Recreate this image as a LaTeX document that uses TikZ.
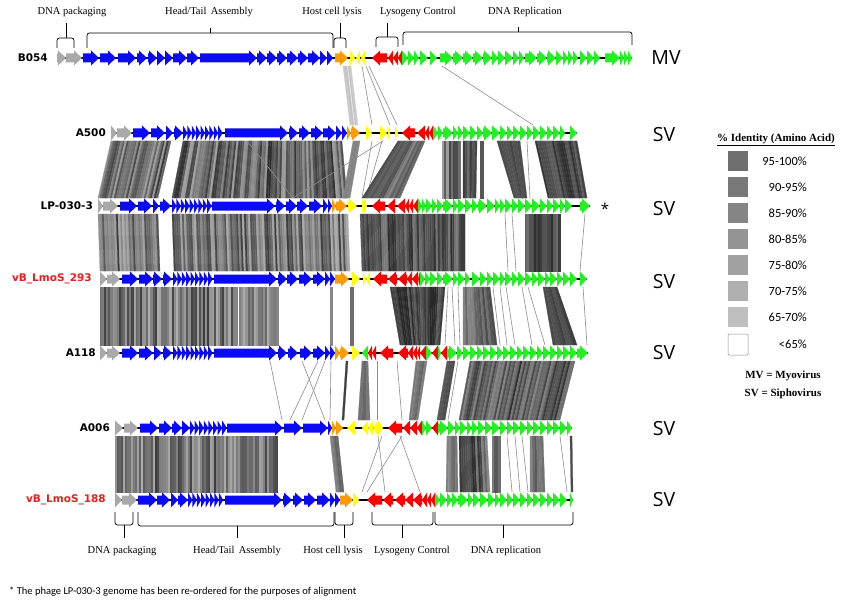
\documentclass[tikz,border=0pt]{standalone}
\usepackage{fontspec}
\setmainfont{Liberation Serif}
\newfontfamily\labfont{DejaVu Sans}
\newfontfamily\svfont{Open Sans}
\newfontfamily\calfont{Carlito}
\definecolor{gblue}{HTML}{0A0AF5}
\definecolor{ggray}{HTML}{A9A9A9}
\definecolor{gorange}{HTML}{FF9A00}
\definecolor{gyellow}{HTML}{FFFF00}
\definecolor{gred}{HTML}{FF0000}
\definecolor{ggreen}{HTML}{22F022}
\definecolor{lred}{HTML}{EE1C1C}
\newcommand\gf[4]{\pgfmathsetmacro\ghx{max(#1,#2-8)}\fill[#4] (#1,#3-4.5) -- (\ghx,#3-4.5) -- (\ghx,#3-7.5) -- (#2,#3) -- (\ghx,#3+7.5) -- (\ghx,#3+4.5) -- (#1,#3+4.5) -- cycle;}
\newcommand\gr[4]{\pgfmathsetmacro\ghx{min(#2,#1+8)}\fill[#4] (#2,#3-4.5) -- (\ghx,#3-4.5) -- (\ghx,#3-7.5) -- (#1,#3) -- (\ghx,#3+7.5) -- (\ghx,#3+4.5) -- (#2,#3+4.5) -- cycle;}
\newcommand\band[9]{%
\foreach \i in {1,...,#7}{%
\pgfmathsetmacro\bta{(\i-1)/#7}%
\pgfmathsetmacro\btb{\i/#7}%
\pgfmathrandominteger{\bsh}{#8+12}{#9+6}%
\filldraw[black!\bsh, line width=0.25pt] ({#1+\bta*(#2-#1)},#5) -- ({#1+\btb*(#2-#1)},#5) -- ({#3+\btb*(#4-#3)},#6) -- ({#3+\bta*(#4-#3)},#6) -- cycle;}}
\newcommand\lnk[4]{\draw[lnkline] (#1,#3) -- (#2,#4);}
\newcommand\brtop[6]{\draw[brk] (#1,#4) -- (#1,#5) -- (#2,#5) -- (#2,#4); \draw[brk] (#3,#5) -- (#3,#6);}
\tikzset{
 trk/.style={line width=1.3pt, black},
 lnkline/.style={black!45, line width=0.6pt},
 brk/.style={black, line width=0.7pt, rounded corners=2.5pt},
 gname/.style={font=\labfont\bfseries\fontsize{10.5}{12}\selectfont, anchor=east, inner sep=0pt},
 vtype/.style={font=\svfont\fontsize{19.5}{22}\selectfont, inner sep=0pt},
 brlab/.style={font=\fontsize{10.5}{12}\selectfont, inner sep=0pt},
 legbox/.style={draw=black!45, line width=0.5pt},
 leglab/.style={font=\calfont\fontsize{12.5}{14}\selectfont, anchor=east, inner sep=0pt}
}
\begin{document}
\begin{tikzpicture}[x=1pt,y=-1pt]
\useasboundingbox (0,0) rectangle (856,604);
\fill[white] (0,0) rectangle (856,604);
\pgfmathsetseed{11}
% ---------- pair 1: B054 - A500
\band{343}{347}{350}{354}{66}{125}{2}{8}{18}
\band{348}{351}{355}{358}{66}{125}{2}{8}{18}
\lnk{362}{372}{66}{125}
\lnk{366}{390}{66}{125}
\lnk{369}{397}{66}{125}
\lnk{442}{533}{66}{125}
% ---------- pair 2: A500 - LP-030-3
\band{111}{171}{98}{158}{141}{198}{30}{25}{75}
\band{183}{342}{172}{347}{141}{198}{80}{25}{75}
\band{353}{360}{343}{350}{141}{198}{3}{25}{45}
\lnk{372}{362}{141}{198}
\lnk{382}{366}{141}{198}
\lnk{383}{293}{141}{198}
\lnk{247}{293}{141}{198}
\band{398}{425}{362}{400}{141}{198}{14}{35}{65}
\band{442}{460}{442}{460}{141}{198}{8}{25}{70}
\band{463}{477}{463}{476}{141}{198}{6}{40}{70}
\band{480}{483}{480}{483}{141}{198}{1}{50}{60}
\band{497}{515}{514}{524}{141}{198}{6}{55}{70}
\band{514}{520}{522}{527}{141}{198}{2}{55}{70}
\lnk{527}{530}{141}{198}
\band{535}{577}{548}{587}{141}{198}{20}{50}{75}
% ---------- pair 3: LP-030-3 - vB_LmoS_293
\band{98}{158}{100}{160}{214}{271}{30}{20}{70}
\band{172}{348}{174}{350}{214}{271}{88}{20}{70}
\band{360}{465}{362}{465}{214}{271}{50}{40}{75}
\lnk{505}{508}{214}{271}
\lnk{512}{516}{214}{271}
\band{525}{560}{525}{560}{214}{271}{16}{45}{75}
\lnk{585}{580}{214}{271}
% ---------- pair 4: vB_LmoS_293 - A118
\band{100}{237}{100}{237}{287}{345}{65}{20}{70}
\band{239}{278}{239}{278}{287}{345}{18}{15}{55}
\band{330}{332}{330}{332}{287}{345}{1}{35}{40}
\band{350}{353}{350}{353}{287}{345}{1}{45}{55}
\band{390}{445}{400}{440}{287}{345}{26}{50}{78}
\lnk{448}{445}{287}{345}
\lnk{452}{455}{287}{345}
\lnk{458}{460}{287}{345}
\band{463}{490}{463}{497}{287}{345}{13}{35}{65}
\lnk{493}{500}{287}{345}
\lnk{500}{507}{287}{345}
\lnk{506}{515}{287}{345}
\lnk{522}{532}{287}{345}
\lnk{528}{545}{287}{345}
\band{543}{557}{553}{577}{287}{345}{7}{50}{70}
\lnk{583}{587}{287}{345}
% ---------- pair 5: A118 - A006
\band{470}{575}{459}{560}{361}{420}{50}{35}{75}
\band{447}{455}{437}{445}{361}{420}{4}{40}{65}
\band{416}{427}{409}{418}{361}{420}{5}{35}{55}
\band{346}{348}{342}{344}{361}{420}{1}{60}{70}
\band{362}{368}{358}{370}{361}{420}{3}{35}{60}
\lnk{377}{377}{361}{420}
\lnk{397}{402}{361}{420}
\lnk{302}{325}{361}{420}
\lnk{325}{302}{361}{420}
\lnk{331}{330}{361}{420}
\lnk{270}{282}{361}{420}
\lnk{318}{290}{361}{420}
\lnk{458}{448}{361}{420}
% ---------- pair 6: A006 - vB_LmoS_188
\band{115}{277}{115}{277}{436}{492}{80}{20}{70}
\band{330}{338}{336}{344}{436}{492}{4}{35}{55}
\lnk{382}{362}{436}{492}
\lnk{402}{367}{436}{492}
\lnk{400}{420}{436}{492}
\lnk{378}{385}{436}{492}
\band{447}{457}{446}{458}{436}{492}{5}{30}{55}
\band{459}{487}{460}{490}{436}{492}{14}{35}{75}
\band{492}{500}{492}{500}{436}{492}{4}{40}{60}
\lnk{507}{512}{436}{492}
\lnk{515}{520}{436}{492}
\lnk{522}{528}{436}{492}
\band{530}{543}{530}{545}{436}{492}{6}{35}{65}
\lnk{560}{567}{436}{492}
\band{570}{572}{571}{573}{436}{492}{1}{55}{65}
% ================= TRACKS
% B054
\draw[trk] (57,58) -- (632,58);
\foreach \a/\b in {57/66,66/82} {\gf{\a}{\b}{58}{ggray}}
\foreach \a/\b in {83/99,100/116,118/136,137/147,148/157,157/165,165/173,173/187,187/199,200/257,257/267,267/277,277/287,287/298,298/308,308/320,320/327,327/333} {\gf{\a}{\b}{58}{gblue}}
\gf{335}{348}{58}{gorange}
\gf{350}{355}{58}{gyellow}\gr{356}{360}{58}{gyellow}\gr{361}{365}{58}{gyellow}
\foreach \a/\b in {372/387,388/393,393/398,398/402} {\gr{\a}{\b}{58}{gred}}
\foreach \a/\b in {402/408,408/414,414/419,420/428,430/437,440/453,453/463,463/473,473/483,483/492,492/498,498/505,505/513,513/519,519/524,525/537,537/547,547/556,556/563,563/568,568/573,573/578,580/587,587/594,594/600,605/620,620/624,624/628,628/632} {\gf{\a}{\b}{58}{ggreen}}
% A500
\draw[trk] (111,133) -- (577,133);
\foreach \a/\b in {111/117,117/132} {\gf{\a}{\b}{133}{ggray}}
\foreach \a/\b in {133/150,151/165,166/173,174/183,225/288,289/298,299/310,311/323,323/336,336/342,342/347} {\gf{\a}{\b}{133}{gblue}}
\foreach \a in {183,187.4,...,219} {\gf{\a}{\a+4.4}{133}{gblue}}
\foreach \a/\b in {347/351,351/360} {\gf{\a}{\b}{133}{gorange}}
\foreach \a/\b in {366/372,380/387,388/390,395/398} {\gf{\a}{\b}{133}{gyellow}}
\foreach \a/\b in {402/415,417/425,425/429,429/433} {\gr{\a}{\b}{133}{gred}}
\foreach \a/\b in {433/438,438/443,443/453,453/458,458/463,463/470,470/477,477/483,483/492,492/500,500/507,507/513,513/520,520/527,527/533,533/540,540/547,547/553,553/560,560/565,570/577} {\gf{\a}{\b}{133}{ggreen}}
% LP-030-3
\draw[trk] (98,206) -- (590,206);
\foreach \a/\b in {98/103,103/118} {\gf{\a}{\b}{206}{ggray}}
\foreach \a/\b in {120/137,138/152,153/159,160/171,212/275,276/285,286/297,297/308,309/322,323/328,328/332} {\gf{\a}{\b}{206}{gblue}}
\foreach \a in {172,176.4,...,208} {\gf{\a}{\a+4.4}{206}{gblue}}
\foreach \a/\b in {332/336,336/347} {\gf{\a}{\b}{206}{gorange}}
\foreach \a/\b in {348/357,362/364,364/367} {\gf{\a}{\b}{206}{gyellow}}
\foreach \a/\b in {372/385,387/395,397/405,405/409,409/413,413/418} {\gr{\a}{\b}{206}{gred}}
\foreach \a/\b in {418/422,422/426,426/432,432/437,437/443,443/453,453/458,458/465,465/472,472/478,478/487,487/495,495/500,500/505,505/512,512/518,518/525,525/532,532/540,540/547,547/553,553/560,560/565,565/572,580/590} {\gf{\a}{\b}{206}{ggreen}}
% vB_LmoS_293
\draw[trk] (100,279) -- (587,279);
\foreach \a/\b in {100/107,107/120} {\gf{\a}{\b}{279}{ggray}}
\foreach \a/\b in {122/138,139/153,153/162,163/172,214/277,278/287,287/298,299/312,313/325,325/330,330/335} {\gf{\a}{\b}{279}{gblue}}
\foreach \a in {173,177.4,...,209} {\gf{\a}{\a+4.4}{279}{gblue}}
\gf{335}{349}{279}{gorange}
\gf{352}{360}{279}{gyellow}\gf{363}{366}{279}{gyellow}\gr{366}{370}{279}{gyellow}
\foreach \a/\b in {373/387,388/397,398/407,407/412,412/418,418/420} {\gr{\a}{\b}{279}{gred}}
\foreach \a/\b in {420/425,425/430,430/437,437/443,443/453,453/458,458/465,465/470,472/480,480/487,487/493,493/500,500/505,505/512,512/518,518/525,525/532,532/538,538/545,545/550,550/557,557/563,563/570,570/577,580/587} {\gf{\a}{\b}{279}{ggreen}}
% A118
\draw[trk] (100,353) -- (588,353);
\foreach \a/\b in {100/107,107/120} {\gf{\a}{\b}{353}{ggray}}
\foreach \a/\b in {122/138,139/153,154/162,163/172,214/277,278/287,288/298,300/312,313/325,325/330,330/335} {\gf{\a}{\b}{353}{gblue}}
\foreach \a in {173,177.4,...,209} {\gf{\a}{\a+4.4}{353}{gblue}}
\foreach \a/\b in {335/340,340/349} {\gf{\a}{\b}{353}{gorange}}
\gf{352}{360}{353}{gyellow}
\gr{362}{368}{353}{ggreen}
\foreach \a/\b in {368/372,372/376,380/393,398/408,408/413,413/417,417/420,420/426,432/438,441/447} {\gr{\a}{\b}{353}{gred}}
\foreach \a/\b in {426/432,438/441,447/457,457/463,463/470,470/477,477/483,483/490,490/497,497/503,503/510,510/517,517/523,523/530,530/537,537/543,543/550,550/557,557/563,563/570,570/577,577/588} {\gf{\a}{\b}{353}{ggreen}}
% A006
\draw[trk] (115,428) -- (572,428);
\foreach \a/\b in {115/123,124/138} {\gf{\a}{\b}{428}{ggray}}
\foreach \a/\b in {140/158,159/172,172/182,182/190,227/283,284/302,303/328,328/332} {\gf{\a}{\b}{428}{gblue}}
\foreach \a in {190,194.6,...,223} {\gf{\a}{\a+4.6}{428}{gblue}}
\foreach \a/\b in {332/336,336/343} {\gf{\a}{\b}{428}{gorange}}
\foreach \a/\b in {347/355,362/368,368/373,373/378} {\gr{\a}{\b}{428}{gyellow}}
\gf{378}{383}{428}{gyellow}
\foreach \a/\b in {388/402,403/410,410/417,417/422,432/438} {\gr{\a}{\b}{428}{gred}}
\foreach \a/\b in {422/426,426/432,438/448,448/455,455/460,460/467,467/472,472/478,478/485,485/492,492/500,500/507,507/513,513/520,520/527,527/533,533/540,540/547,547/553,553/560,560/567,567/572} {\gf{\a}{\b}{428}{ggreen}}
% vB_LmoS_188
\draw[trk] (115,500) -- (573,500);
\foreach \a/\b in {115/122,122/137} {\gf{\a}{\b}{500}{ggray}}
\foreach \a/\b in {138/157,157/170,171/178,178/188,225/282,283/292,293/303,304/316,317/330,330/335,335/340} {\gf{\a}{\b}{500}{gblue}}
\foreach \a in {188,192.4,...,220} {\gf{\a}{\a+4.4}{500}{gblue}}
\gf{340}{353}{500}{gorange}
\gf{353}{359}{500}{gyellow}
\foreach \a/\b in {367/382,383/393,395/405,405/413,413/422,422/427,427/431,431/435} {\gr{\a}{\b}{500}{gred}}
\foreach \a/\b in {435/440,440/447,447/452,452/458,458/468,468/473,473/480,480/488,488/495,495/500,500/507,507/513,513/520,520/527,527/533,533/540,540/547,547/553,553/560,560/567,570/573} {\gf{\a}{\b}{500}{ggreen}}
% ================= GENOME NAMES
\node[gname] (nB054) at (48,58) {B054};
\node[gname] (nA500) at (106,133) {A500};
\node[gname] (nLP) at (93,206) {LP-030-3};
\node[gname, text=lred] (n293) at (92,279) {vB\_LmoS\_293};
\node[gname] (nA118) at (96,353) {A118};
\node[gname] (nA006) at (110,428) {A006};
\node[gname, text=lred] (n188) at (106,500) {vB\_LmoS\_188};
% ================= TYPES
\node[vtype] (tMV) at (666,58) {MV};
\node[vtype] (tSV1) at (664,135) {SV};
\node[vtype] (tSV2) at (664,209) {SV};
\node[vtype] (tSV3) at (664,282) {SV};
\node[vtype] (tSV4) at (664,353) {SV};
\node[vtype] (tSV5) at (664,429) {SV};
\node[vtype] (tSV6) at (664,500) {SV};
\node[font=\svfont\fontsize{15}{16}\selectfont, inner sep=0pt] (ast) at (605,209) {*};
% ================= TOP BRACKETS
\brtop{57}{74}{66}{48}{38}{23}
\brtop{87}{333}{210}{48}{33}{28}
\brtop{334}{346}{340}{48}{38}{23}
\brtop{376}{398}{387}{47}{37}{23}
\brtop{403}{632}{518}{45}{32}{27}
\node[brlab] (tl1) at (72,12) {DNA packaging};
\node[brlab] (tl2) at (209,12) {Head/Tail\, Assembly};
\node[brlab] (tl3) at (332,12) {Host cell lysis};
\node[brlab] (tl4) at (418,12) {Lysogeny Control};
\node[brlab] (tl5) at (525,12) {DNA Replication};
% ================= BOTTOM BRACKETS
\brtop{115}{133}{124}{512}{525}{538}
\brtop{138}{334}{237}{512}{526}{538}
\brtop{335}{353}{344}{512}{525}{538}
\brtop{372}{433}{402}{512}{525}{538}
\brtop{435}{573}{503}{512}{525}{538}
\node[brlab] (bl1) at (122,551) {DNA packaging};
\node[brlab] (bl2) at (237,551) {Head/Tail\, Assembly};
\node[brlab] (bl3) at (333,551) {Host cell lysis};
\node[brlab] (bl4) at (412,551) {Lysogeny Control};
\node[brlab] (bl5) at (506,551) {DNA replication};
% ================= LEGEND
\node[font=\bfseries\fontsize{11}{13}\selectfont, inner sep=0pt] (legt) at (776,140) {\underline{\% Identity (Amino Acid)}};
\foreach \yy/\cc/\tt [count=\k] in {161/57/95-100\%,187/53/90-95\%,213/48/85-90\%,239/42/80-85\%,265/37/75-80\%,291/31/70-75\%,317/25/65-70\%} {
 \fill[black!\cc] (728,\yy-10) rectangle (748,\yy+10);
 \node[leglab] (leg\k) at (807,\yy) {\tt};
}
\draw[legbox, rounded corners=1pt] (728,334) rectangle (748,355);
\node[leglab] (leg8) at (807,344) {<65\%};
\node[font=\bfseries\fontsize{11}{13}\selectfont, inner sep=0pt] (mvdef) at (783,376) {MV = Myovirus};
\node[font=\bfseries\fontsize{11}{13}\selectfont, inner sep=0pt] (svdef) at (783,394) {SV = Siphovirus};
% ================= FOOTNOTE
\node[font=\calfont\fontsize{10.5}{12}\selectfont, anchor=west, inner sep=0pt] (foot) at (9,592) {* The phage LP-030-3 genome has been re-ordered for the purposes of alignment};
\end{tikzpicture}
\end{document}
